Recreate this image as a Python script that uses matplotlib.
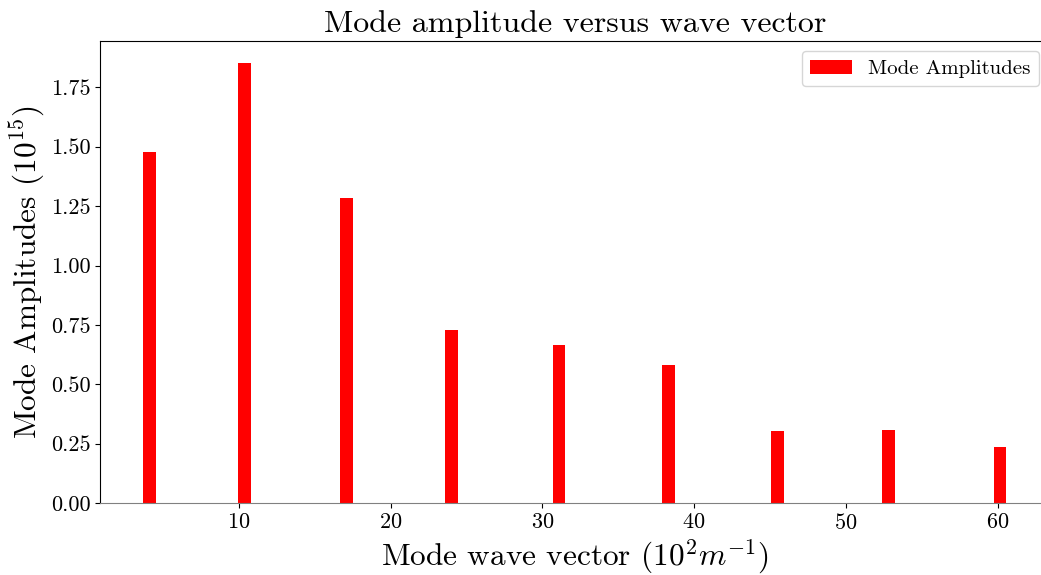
import matplotlib
matplotlib.use("Agg")
import matplotlib.pyplot as plt

# Data
wave_vectors = [4.11, 10.35, 17.07, 24.0, 31.1, 38.3, 45.5, 52.8, 60.15]
amplitudes = [1.478, 1.853, 1.285, 0.730, 0.666, 0.582, 0.304, 0.308, 0.236]
bar_width = 0.84

plt.rcParams['font.family'] = 'serif'
plt.rcParams['font.serif'] = ['cmr10']
plt.rcParams['mathtext.fontset'] = 'cm'
plt.rcParams['axes.unicode_minus'] = False
plt.rcParams['axes.formatter.use_mathtext'] = True

fig = plt.figure(figsize=(10.41, 5.75), dpi=100)
ax = fig.add_axes([0.0961, 0.125, 0.912, 0.804])

ax.bar(wave_vectors, amplitudes, width=bar_width, color='red', label='Mode Amplitudes')
ax.spines['bottom'].set_color('gray')

ax.set_title('Mode amplitude versus wave vector', fontsize=23)
ax.set_xlabel(r'Mode wave vector ($10^2 m^{-1}$)', fontsize=22.5, labelpad=3)
ax.set_ylabel(r'Mode Amplitudes ($10^{15}$)', fontsize=22.5, labelpad=2)
ax.tick_params(labelsize=16)
ax.yaxis.set_major_formatter(matplotlib.ticker.FormatStrFormatter('%.2f'))
ax.legend(loc='upper right', fontsize=15)

fig.savefig('out.png', dpi=100)
